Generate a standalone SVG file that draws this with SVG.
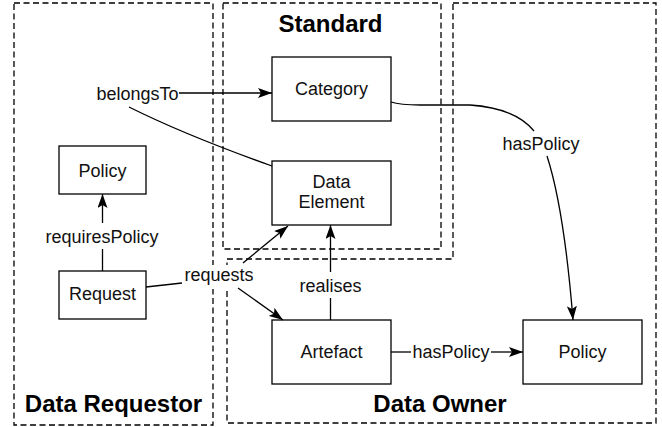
<svg xmlns="http://www.w3.org/2000/svg" width="662" height="427" viewBox="0 0 662 427">
<style>
.cont{fill:none;stroke:#000;stroke-width:1.3;stroke-dasharray:6 3.5}
.node rect{fill:#fff;stroke:#000;stroke-width:1.3}
text{font-family:"Liberation Sans",Arial,Helvetica,sans-serif;font-size:18px;fill:#111;text-anchor:middle}
.title{font-size:24px;font-weight:bold;fill:#000}
.edge{fill:none;stroke:#000;stroke-width:1.3}
</style>
<defs>
<marker id="arr" markerUnits="userSpaceOnUse" markerWidth="14" markerHeight="10" refX="14" refY="5" orient="auto">
<path d="M0,0 L14,5 L0,10 L3,5 Z" fill="#000"/>
</marker>
</defs>
<rect width="662" height="427" fill="#fff"/>
<g id="data-requestor">
<rect class="cont" x="14" y="3" width="199" height="422"/>
<text class="title" x="113.5" y="412">Data Requestor</text>
</g>
<g id="standard">
<rect class="cont" x="223" y="3" width="218" height="246"/>
<text class="title" x="330.5" y="32">Standard</text>
</g>
<g id="data-owner">
<path class="cont" d="M453,3 H656 V423 H227 V259 H453 Z"/>
<text class="title" x="440" y="412">Data Owner</text>
</g>
<rect x="183" y="265" width="73" height="24" fill="#fff"/>
<g id="category" class="node">
<rect x="272" y="57" width="119" height="64"/>
<text x="331.5" y="95">Category</text>
</g>
<g id="data-element" class="node">
<rect x="272" y="161" width="119" height="64"/>
<text x="331.5" y="188">Data</text>
<text x="331.5" y="208">Element</text>
</g>
<g id="policy-req" class="node">
<rect x="59" y="146" width="87" height="48"/>
<text x="102.5" y="177">Policy</text>
</g>
<g id="request" class="node">
<rect x="59" y="271" width="87" height="48"/>
<text x="102.5" y="300">Request</text>
</g>
<g id="artefact" class="node">
<rect x="272" y="320" width="119" height="64"/>
<text x="331.5" y="358">Artefact</text>
</g>
<g id="policy-owner" class="node">
<rect x="523" y="320" width="119" height="64"/>
<text x="582.5" y="358">Policy</text>
</g>
<g id="connectors">
<path class="edge" d="M129,107 Q185,135 272,166"/>
<path class="edge" d="M179,93 L272,93" marker-end="url(#arr)"/>
<text x="137.5" y="100">belongsTo</text>
<path class="edge" d="M391,102 Q400,105 420,105 L470,105 Q515,108 534,131"/>
<path class="edge" d="M547,156 C558,190 567,245 573,320" marker-end="url(#arr)"/>
<text x="541" y="150">hasPolicy</text>
<path class="edge" d="M102.5,271 V249"/>
<path class="edge" d="M102.5,223 V194" marker-end="url(#arr)"/>
<text x="102" y="243">requiresPolicy</text>
<path class="edge" d="M146,287 L182,283"/>
<path class="edge" d="M243,263 L288,226" marker-end="url(#arr)"/>
<path class="edge" d="M238,288 L283,320" marker-end="url(#arr)"/>
<text x="219" y="281">requests</text>
<path class="edge" d="M330.5,320 V298"/>
<path class="edge" d="M330.5,272 V225" marker-end="url(#arr)"/>
<text x="330.5" y="292">realises</text>
<path class="edge" d="M391,352 H411"/>
<path class="edge" d="M491,352 H523" marker-end="url(#arr)"/>
<text x="451" y="358">hasPolicy</text>
</g>
</svg>
